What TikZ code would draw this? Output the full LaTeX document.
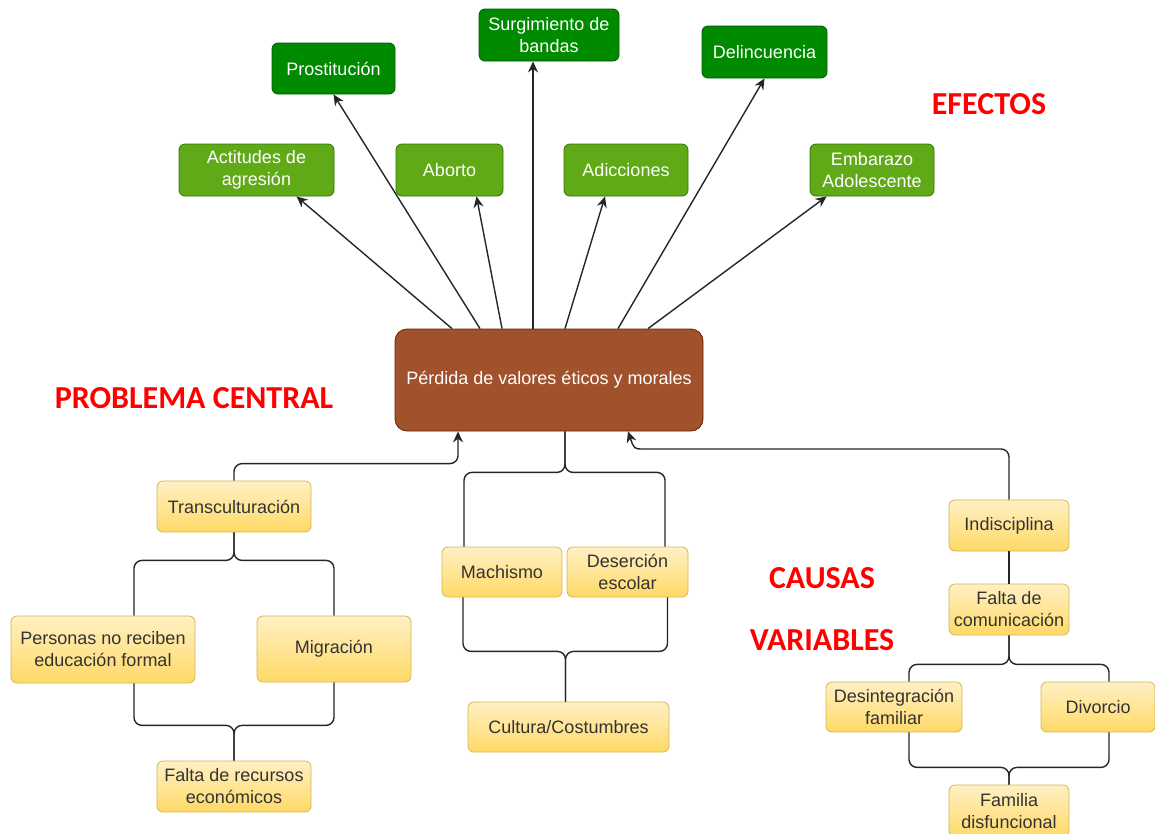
\documentclass[tikz,border=0pt]{standalone}
\usepackage{fontspec}
\setmainfont{Liberation Sans}
\newfontfamily\lblfont{Carlito}
\usetikzlibrary{arrows.meta}
\definecolor{dgreen}{HTML}{008A00}
\definecolor{dgreenb}{HTML}{005700}
\definecolor{lgreen}{HTML}{60A917}
\definecolor{lgreenb}{HTML}{2D7600}
\definecolor{brown1}{HTML}{A0522D}
\definecolor{brownb}{HTML}{6D1F00}
\definecolor{ytop}{HTML}{FFF0C4}
\definecolor{ybot}{HTML}{FFD966}
\definecolor{yborder}{HTML}{D6B656}
\definecolor{ytext}{HTML}{333333}
\definecolor{lblred}{HTML}{FF0000}
\tikzset{
  box/.style={rounded corners=6pt, inner sep=2pt, align=center, font=\fontsize{18}{22}\selectfont, line width=0.8pt},
  dbox/.style={box, fill=dgreen, draw=dgreenb, text=white},
  lbox/.style={box, fill=lgreen, draw=lgreenb, text=white},
  cbox/.style={box, rounded corners=12pt, fill=brown1, draw=brownb, text=white},
  ybox/.style={box, top color=ytop, bottom color=ybot, draw=yborder, text=ytext},
  conn/.style={draw=black!85, line width=1.4pt, rounded corners=8pt},
  arr/.style={-{Stealth[length=11pt,width=10pt]}},
  lbl/.style={font=\lblfont\bfseries\fontsize{32}{36}\selectfont, text=lblred, inner sep=0pt}
}
\begin{document}
\begin{tikzpicture}[x=1pt,y=-1pt]
\clip (0,0) rectangle (1155,833);
\fill[white] (0,0) rectangle (1155,833);

% effects
\node[dbox, minimum width=123pt, minimum height=51pt] (prost) at (333.5,68.5) {Prostitución};
\node[dbox, minimum width=140pt, minimum height=52pt] (surg) at (549,35) {Surgimiento de\\bandas};
\node[dbox, minimum width=125pt, minimum height=52pt] (delin) at (764.5,52) {Delincuencia};
\node[lbox, minimum width=155pt, minimum height=52pt] (actit) at (256.5,170) {Actitudes de\\agresión};
\node[lbox, minimum width=107pt, minimum height=52pt] (abort) at (449.5,170) {Aborto};
\node[lbox, minimum width=124pt, minimum height=52pt] (adic) at (626,170) {Adicciones};
\node[lbox, minimum width=124pt, minimum height=52pt] (emb) at (872,170) {Embarazo\\Adolescente};

% central
\node[cbox, minimum width=308pt, minimum height=102pt] (central) at (549,380) {Pérdida de valores éticos y morales};

% causes
\node[ybox, minimum width=154pt, minimum height=51pt] (trans) at (234,506.5) {Transculturación};
\node[ybox, minimum width=184pt, minimum height=67pt] (personas) at (103,649.5) {Personas no reciben\\educación formal};
\node[ybox, minimum width=154pt, minimum height=66pt] (migr) at (334,649) {Migración};
\node[ybox, minimum width=154pt, minimum height=51pt] (recursos) at (234,786.5) {Falta de recursos\\económicos};
\node[ybox, minimum width=120pt, minimum height=50pt] (mach) at (502,572) {Machismo};
\node[ybox, minimum width=121pt, minimum height=50pt] (deser) at (627.5,572) {Deserción\\escolar};
\node[ybox, minimum width=201pt, minimum height=50pt] (cultura) at (568.5,727) {Cultura/Costumbres};
\node[ybox, minimum width=120pt, minimum height=51pt] (indis) at (1009,525.5) {Indisciplina};
\node[ybox, minimum width=120pt, minimum height=51pt] (comun) at (1009,609.5) {Falta de\\comunicación};
\node[ybox, minimum width=136pt, minimum height=50pt] (desint) at (894,707) {Desintegración\\familiar};
\node[ybox, minimum width=114pt, minimum height=50pt] (divor) at (1098,707) {Divorcio};
\node[ybox, minimum width=120pt, minimum height=52pt] (famil) at (1009,811) {Familia\\disfuncional};

% labels
\node[lbl] (efectos) at (989,104) {EFECTOS};
\node[lbl] (problema) at (194,398) {PROBLEMA CENTRAL};
\node[lbl] (causas) at (822,578) {CAUSAS};
\node[lbl] (variables) at (822,640) {VARIABLES};

% effect arrows
\draw[conn,arr] ([xshift=-97pt]central.north) -- ([xshift=40pt]actit.south);
\draw[conn,arr] ([xshift=-69pt]central.north) -- (prost.south);
\draw[conn,arr] ([xshift=-47pt]central.north) -- ([xshift=27pt]abort.south);
\draw[conn,arr] ([xshift=-16pt]central.north) -- ([xshift=-16pt]surg.south);
\draw[conn,arr] ([xshift=16pt]central.north) -- ([xshift=-21pt]adic.south);
\draw[conn,arr] ([xshift=69pt]central.north) -- (delin.south);
\draw[conn,arr] ([xshift=99pt]central.north) -- ([xshift=17pt]emb.south west);

% left group
\draw[conn,arr] (trans.north) -- ++(0,-17) -| ([xshift=-91pt]central.south);
\draw[conn] (trans.south) -- ++(0,28) -| ([xshift=31pt]personas.north);
\draw[conn] (trans.south) -- ++(0,28) -| (migr.north);
\draw[conn] ([xshift=31pt]personas.south) -- ++(0,42) -| (recursos.north);
\draw[conn] (migr.south) -- ++(0,43) -| (recursos.north);

% middle group
\draw[conn] ([xshift=16pt]central.south) -- ++(0,41) -| ([xshift=-38pt]mach.north);
\draw[conn] ([xshift=16pt]central.south) -- ++(0,41) -| ([xshift=37.5pt]deser.north);
\draw[conn] ([xshift=-39pt]mach.south) -- ++(0,54) -| ([xshift=-3pt]cultura.north);
\draw[conn] ([xshift=40pt]deser.south) -- ++(0,54) -| ([xshift=-3pt]cultura.north);

% right group
\coordinate (rturn) at (652,449);
\draw[conn,arr] (indis.north) |- (rturn) .. controls (634,449) .. ([xshift=79pt]central.south);
\draw[conn] (indis.south) -- (comun.north);
\draw[conn] (comun.south) -- ++(0,29) -| ([xshift=15pt]desint.north);
\draw[conn] (comun.south) -- ++(0,29) -| ([xshift=11pt]divor.north);
\draw[conn] ([xshift=15pt]desint.south) -- ++(0,35) -| (famil.north);
\draw[conn] ([xshift=11pt]divor.south) -- ++(0,35) -| (famil.north);
\end{tikzpicture}
\end{document}
